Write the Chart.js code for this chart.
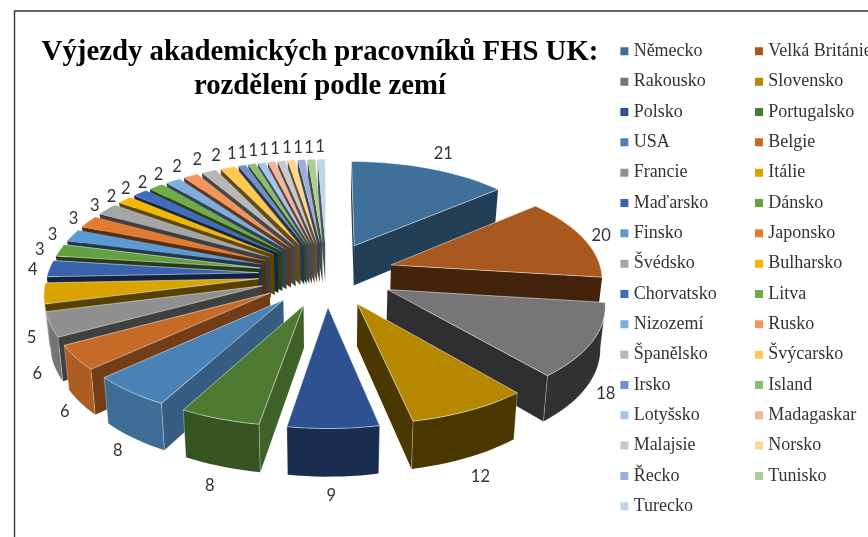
<!DOCTYPE html>
<html><head><meta charset="utf-8">
<style>html,body{margin:0;padding:0;background:#fff;overflow:hidden}canvas{display:block}</style>
<script src="https://cdn.jsdelivr.net/npm/chart.js@4"></script>
</head><body>
<canvas id="c" width="868" height="537"></canvas>
<script>
const titleLines = ['Výjezdy akademických pracovníků FHS UK:', 'rozdělení podle zemí'];
const categories = ['Německo','Velká Británie','Rakousko','Slovensko','Polsko','Portugalsko','USA','Belgie','Francie','Itálie','Maďarsko','Dánsko','Finsko','Japonsko','Švédsko','Bulharsko','Chorvatsko','Litva','Nizozemí','Rusko','Španělsko','Švýcarsko','Irsko','Island','Lotyšsko','Madagaskar','Malajsie','Norsko','Řecko','Tunisko','Turecko'];
const values = [21,20,18,12,9,8,8,6,6,5,4,3,3,3,3,2,2,2,2,2,2,2,1,1,1,1,1,1,1,1,1];
const colors = ['#3E7099','#A9581F','#767676','#B68800','#2E5291','#4E7A31','#4A82B5','#C66A27','#8F8F8F','#D9A300','#3A62AE','#649F40','#5A9AD5','#E27A30','#A5A5A5','#F5B800','#3E6CC0','#70AD47','#7CAFDD','#F1955C','#B7B7B7','#FFC94D','#6F8FD0','#8CBD6E','#A4C4E8','#F4B59A','#C9C9C9','#FFD68F','#9DADDC','#A9CF97','#BFD5EE'];
const radialShade = [.56,.40,.40,.41,.5,.80,.72,.58,.45,.40,.35,.38,.36,.38,.38,.38,.36,.38,.38,.38,.38,.38,.38,.38,.38,.38,.38,.38,.38,.38,.38];
const outerShade = [.6,.6,.42,.41,.55,.70,.84,.88,.82,.85,.8,.8,.8,.8,.8,.8,.8,.8,.8,.8,.8,.8,.8,.8,.8,.8,.8,.8,.8,.8,.8];
// label nudges off the default radial position
const labelDx = [3,-10,-20,-9,-3,5,14,21,21,21,15,10,8,11,11,8,5,4,1,0,0,-2,-2,-2,-2,-2,-2,-1,-1,-1,-1];
const labelDy = [-4,2,23,5,-3,1,6,17,27,36,2,2,3,2,3,5,4,5,3,1,-2,-2,-1,-1,-1,-1,-1,-1,-1,-1,-1];

const CX = 326.5, CY = 274, R = 211, EXPLODE = 68, TILT = .472, PERSP = .00053, DEPTH = 41, GAP = 32, SHRINK = .982;
function proj(u, v) {
  const s = 1 / (1 + PERSP * v), sx = v < 0 ? Math.pow(s, 1.1) : s;
  return { x: CX + u * sx, y: CY - TILT * v * s, s };
}
function shade(hex, f) {
  const n = parseInt(hex.slice(1), 16);
  return `rgb(${Math.round((n >> 16) * f)},${Math.round(((n >> 8) & 255) * f)},${Math.round((n & 255) * f)})`;
}
function poly(ctx, pts) { ctx.beginPath(); pts.forEach((p, i) => i ? ctx.lineTo(p.x, p.y) : ctx.moveTo(p.x, p.y)); ctx.closePath(); }
function down(p) { return { x: CX + (p.x - CX) * SHRINK, y: p.y + DEPTH * p.s }; }

const pie3d = {
  id: 'pie3d',
  beforeDraw(chart) {
    const ctx = chart.ctx;
    ctx.save(); ctx.strokeStyle = '#2f3540'; ctx.lineWidth = 1.4;
    ctx.beginPath(); ctx.moveTo(14.5, 537); ctx.lineTo(14.5, 11); ctx.lineTo(868, 11); ctx.stroke(); ctx.restore();
  },
  afterLayout(chart) {
    const lg = chart.legend, t = chart.titleBlock;
    lg.left = 611.8; lg.top = 30; lg.right = 868; lg.bottom = 537;
    if (lg.columnSizes && lg.columnSizes[0]) lg.columnSizes[0].width = 134.6 - chart.options.plugins.legend.labels.padding;
    t.left = 0; t.right = 640; t.top = 36; t.bottom = 104;
  },
  beforeDatasetsDraw(chart) {
    const ctx = chart.ctx, arcs = chart.getDatasetMeta(0).data;
    const slices = arcs.map((el, i) => {
      const a0 = el.startAngle + Math.PI / 2, a1 = el.endAngle + Math.PI / 2, mid = (a0 + a1) / 2;
      const ou = EXPLODE * Math.sin(mid), ov = EXPLODE * Math.cos(mid);
      const top = [proj(ou, ov)];
      const steps = Math.max(2, Math.ceil((a1 - a0) / .04));
      for (let k = 0; k <= steps; k++) {
        const a = a0 + (a1 - a0) * k / steps;
        top.push(proj(ou + R * Math.sin(a), ov + R * Math.cos(a)));
      }
      return { i, mid, top, depth: ov + (R * .6) * Math.cos(mid) };
    }).sort((p, q) => q.depth - p.depth);
    ctx.save();
    ctx.lineJoin = 'round';
    const wall = (pts, col) => {
      poly(ctx, pts.concat(pts.map(down).reverse()));
      ctx.fillStyle = col; ctx.fill();
    };
    slices.forEach(sl => {
      const n = sl.top.length, base = colors[sl.i], t = sl.top;
      const a = t[0], first = t[1], last = t[n - 1];
      if (first.x < a.x) wall([a, first], shade(base, radialShade[sl.i]));
      if (a.x < last.x) wall([last, a], shade(base, radialShade[sl.i]));
      const arc = [];
      for (let k = 1; k < n - 1; k++) {
        if (t[k + 1].x < t[k].x) { if (!arc.length) arc.push(t[k]); arc.push(t[k + 1]); }
      }
      if (arc.length) {
        wall(arc, shade(base, outerShade[sl.i]));
        if (sl.i < 12) {
          ctx.strokeStyle = 'rgba(255,255,255,.4)'; ctx.lineWidth = .8;
          [arc[0], arc[arc.length - 1]].forEach(p => { const d = down(p); ctx.beginPath(); ctx.moveTo(p.x, p.y); ctx.lineTo(d.x, d.y); ctx.stroke(); });
        }
      }
      poly(ctx, t);
      ctx.fillStyle = base; ctx.fill();
      ctx.strokeStyle = 'rgba(255,255,255,' + (sl.i < 12 ? .55 : .12) + ')'; ctx.lineWidth = .9; ctx.stroke();
    });
    // data labels
    ctx.fillStyle = '#333'; ctx.font = '16.5px Lato'; ctx.textAlign = 'center'; ctx.textBaseline = 'middle';
    slices.forEach(sl => {
      const r = R + EXPLODE + GAP, u = r * Math.sin(sl.mid), v = r * Math.cos(sl.mid);
      const p = proj(u, v);
      ctx.fillText(String(values[sl.i]), p.x + labelDx[sl.i], p.y + DEPTH * p.s * Math.max(0, -Math.cos(sl.mid)) + labelDy[sl.i]);
    });
    ctx.restore();
    return false;
  }
};

new Chart(document.getElementById('c'), {
  type: 'pie',
  data: { labels: categories, datasets: [{ data: values, backgroundColor: colors, borderWidth: 0 }] },
  options: {
    responsive: false, animation: false, devicePixelRatio: 1,
    layout: { padding: { bottom: 20 } },
    plugins: {
      tooltip: { enabled: false },
      title: { display: true, text: titleLines, color: '#000', font: { family: '"Liberation Serif"', size: 28.8, weight: 'bold', lineHeight: 1.18 }, padding: 0 },
      legend: { position: 'right', align: 'start',
        labels: { font: { family: '"Liberation Serif"', size: 18 }, color: '#333', padding: 12.33, usePointStyle: true, pointStyle: 'rect', boxWidth: .5, boxHeight: 8,
          sort: (a, b) => ((a.index % 2) - (b.index % 2)) || (a.index - b.index) } }
    }
  },
  plugins: [pie3d]
});
</script>
</body></html>
